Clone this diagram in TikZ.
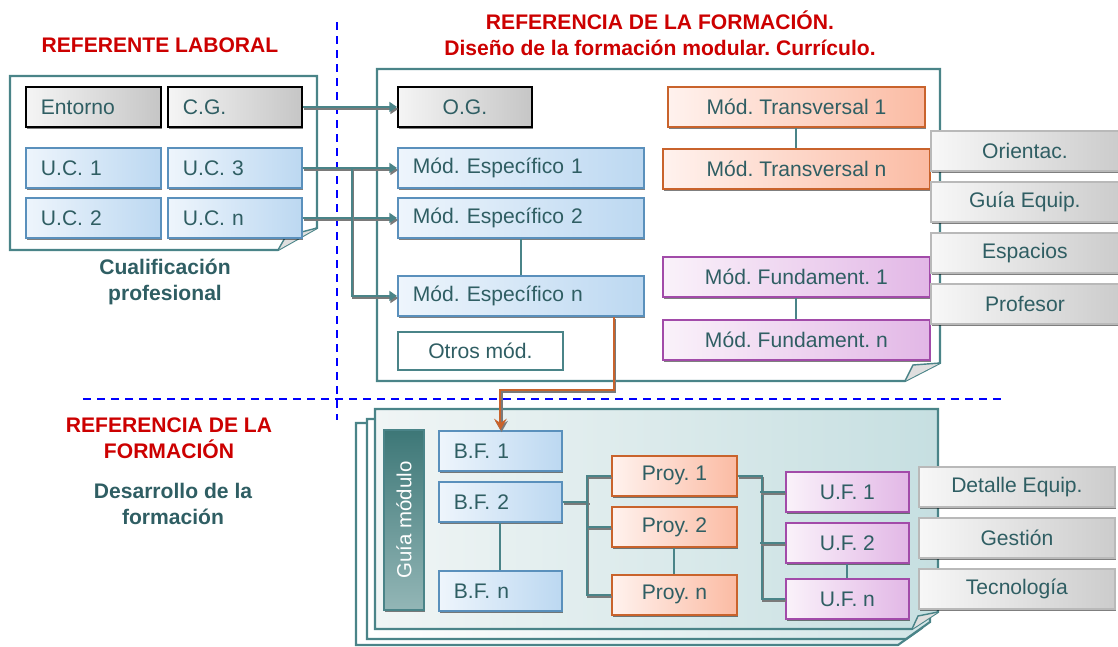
\documentclass[tikz,border=0pt]{standalone}
\usepackage{fontspec}
\setmainfont{Liberation Sans}
\usetikzlibrary{arrows.meta,shadows,calc}
\frenchspacing

\definecolor{tealc}{HTML}{4A8488}
\definecolor{txtc}{HTML}{2F5E63}
\definecolor{redc}{HTML}{CC0000}
\definecolor{bluebd}{HTML}{5A90BC}
\definecolor{bluel}{HTML}{EEF5FC}
\definecolor{bluer}{HTML}{BCD8F1}
\definecolor{orbd}{HTML}{C9632C}
\definecolor{orl}{HTML}{FFF2EE}
\definecolor{orr}{HTML}{FBBBA3}
\definecolor{pubd}{HTML}{A24BA9}
\definecolor{pul}{HTML}{FAF2FA}
\definecolor{pur}{HTML}{E2B7E6}
\definecolor{shd}{HTML}{7A7A7A}
\definecolor{blued}{HTML}{0000FF}
\definecolor{guiat}{HTML}{3D7777}
\definecolor{guiab}{HTML}{93B6B6}
\definecolor{panl}{HTML}{F0F5F5}
\definecolor{panr}{HTML}{C6DFE1}

\newcommand\pxu{0.025cm}

\tikzset{
  sh/.style={drop shadow={shadow xshift=1pt, shadow yshift=-1.6pt, opacity=0.5, fill=black}},
  box/.style={anchor=north west, inner sep=0pt, minimum height=40*\pxu, line width=1.3pt,
    text=txtc, font=\fontsize{15}{18}\selectfont},
  lbox/.style={box, minimum width=#1*\pxu, text width={(#1-30)*\pxu}, inner xsep=15*\pxu, align=left},
  cbox/.style={box, minimum width=#1*\pxu},
  gbox/.style={sh, draw=black, left color=gray!8, right color=gray!45},
  bbox/.style={sh, draw=bluebd, left color=bluel, right color=bluer},
  obox/.style={sh, draw=orbd, left color=orl, right color=orr},
  pbox/.style={sh, draw=pubd, left color=pul, right color=pur},
  rbox/.style={sh, draw=gray!55, left color=gray!6, right color=gray!40},
  panel/.style={draw=tealc, line width=1.5pt},
  flap/.style={draw=tealc, line width=1pt, fill=gray!25},
  conn/.style={draw=tealc, line width=1.5pt,
    preaction={draw=shd, line width=1.5pt, transform canvas={shift={(0.8pt,-1.5pt)}}}},
  oconn/.style={conn, draw=orbd},
  link/.style={draw=tealc, line width=1.5pt},
  dashln/.style={draw=blued, line width=1.4pt, dash pattern=on 0.2cm off 0.15cm},
  title/.style={text=redc, font=\fontsize{15}{18.4}\selectfont\bfseries, align=center},
  sub/.style={text=txtc, font=\fontsize{15}{18.4}\selectfont\bfseries, align=center},
  tip/.style={-{Triangle[length=5.5pt,width=7pt]}}
}

\begin{document}
\begin{tikzpicture}[x=\pxu, y=-\pxu]
\useasboundingbox (0,0) rectangle (1118,646);

% separadores
\draw[dashln] (337,22) -- (337,420);
\draw[dashln] (83,399) -- (1003,399);

% titulos
\node[title] (tlab) at (160,45) {REFERENTE LABORAL};
\node[title] (tform) at (660,33) {REFERENCIA DE LA FORMACIÓN.\\Diseño de la formación modular. Currículo.};
\node[title] (tdes) at (169,438) {REFERENCIA DE LA\\FORMACIÓN};
\node[sub] (cualif) at (165,282) {Cualificación\\profesional};
\node[sub] (desarr) at (173,504) {Desarrollo de la\\formación};

% paneles
\draw[panel, fill=white] (10,76) -- (317,76) -- (317,228) -- (278,250) -- (10,250) -- cycle;
\draw[flap] (278,250) -- (286,236) -- (317,228);
\draw[panel, fill=white] (377,69) -- (940,69) -- (940,363) -- (905,381) -- (377,381) -- cycle;
\draw[flap] (905,381) -- (913,365) -- (940,363);

\shade[left color=white, right color=panr!60] (356,423) -- (922,423) -- (922,628) -- (898,645) -- (356,645) -- cycle;
\draw[panel] (356,423) -- (922,423) -- (922,628) -- (898,645) -- (356,645) -- cycle;
\shade[left color=white, right color=panr!80] (367,419) -- (930,419) -- (930,622) -- (906,639) -- (367,639) -- cycle;
\draw[panel] (367,419) -- (930,419) -- (930,622) -- (906,639) -- (367,639) -- cycle;
\shade[left color=panl, right color=panr] (375,409) -- (938,409) -- (938,612) -- (912,629) -- (375,629) -- cycle;
\draw[panel] (375,409) -- (938,409) -- (938,612) -- (912,629) -- (375,629) -- cycle;
\draw[flap] (912,629) -- (918,616) -- (938,612);

% referente laboral
\node[lbox=135, gbox] (ent) at (25,86) {Entorno};
\node[lbox=134, gbox] (cg) at (167,86) {C.G.};
\node[lbox=135, bbox] (uc1) at (25,147) {U.C. 1};
\node[lbox=134, bbox] (uc3) at (167,147) {U.C. 3};
\node[lbox=135, bbox] (uc2) at (25,197) {U.C. 2};
\node[lbox=134, bbox] (ucn) at (167,197) {U.C. n};

% diseño modular
\node[cbox=134, gbox] (og) at (397,86) {O.G.};
\node[lbox=246, bbox] (esp1) at (397,147) {Mód. Específico 1};
\node[lbox=246, bbox] (esp2) at (397,197) {Mód. Específico 2};
\node[lbox=246, bbox] (espn) at (397,275) {Mód. Específico n};
\node[cbox=165, draw=tealc, fill=white, minimum height=38*\pxu] (otros) at (397,331) {Otros mód.};
\node[cbox=257, obox] (tr1) at (667,86) {Mód. Transversal 1};
\node[cbox=267, obox] (trn) at (662,148) {Mód. Transversal n};
\node[cbox=267, pbox] (fu1) at (662,256) {Mód. Fundament. 1};
\node[cbox=267, pbox] (fun) at (662,319) {Mód. Fundament. n};

\node[cbox=188, rbox] (ori) at (930,130) {Orientac.};
\node[cbox=188, rbox] (gequ) at (930,181) {Guía Equip.};
\node[cbox=188, rbox] (espa) at (930,232) {Espacios};
\node[cbox=188, rbox] (prof) at (930,283) {Profesor};

% desarrollo
\node[box, minimum width=40*\pxu, minimum height=180*\pxu, top color=guiat, bottom color=guiab,
  draw=tealc, text=white, font=\fontsize{14.5}{17}\selectfont, sh] (guia) at (383,429) {\rotatebox{90}{Guía módulo}};
\node[lbox=123, bbox] (bf1) at (438,430) {B.F. 1};
\node[lbox=123, bbox] (bf2) at (438,481) {B.F. 2};
\node[lbox=123, bbox] (bfn) at (438,570) {B.F. n};
\node[cbox=125, obox] (proy1) at (611,455) {Proy. 1};
\node[cbox=125, obox] (proy2) at (611,506) {Proy. 2};
\node[cbox=125, obox] (proyn) at (611,574) {Proy. n};
\node[cbox=123, pbox] (uf1) at (785,471) {U.F. 1};
\node[cbox=123, pbox] (uf2) at (785,522) {U.F. 2};
\node[cbox=123, pbox] (ufn) at (785,578) {U.F. n};

\node[cbox=196, rbox] (deq) at (918,466) {Detalle Equip.};
\node[cbox=196, rbox] (gest) at (918,517) {Gestión};
\node[cbox=196, rbox] (tecn) at (918,568) {Tecnología};

% enlaces
\draw[link] (tr1.south) -- (trn.north);
\draw[link] (fu1.south) -- (fun.north);
\draw[link] (esp2.south) -- (espn.north);
\draw[link] (bf2.south) -- (bfn.north);
\draw[link] (proy2.south) -- (proyn.north);
\draw[link] (uf2.south) -- (ufn.north);

\draw[conn, tip] (cg.east) -- (og.west);
\draw[conn, tip] (uc3.east) -- (esp1.west);
\draw[conn, tip] (ucn.east) -- (esp2.west);
\draw[conn, tip] (uc3.east) -- ++(49,0) |- (espn.west);

\draw[oconn, -{Stealth[length=8pt,width=9pt,inset=3pt]}] ($(espn.south east)+(-31,0)$) -- ++(0,73) -| (bf1.north);

\draw[conn] (bf2.east) -- ++(26,0);
\draw[conn] (proy1.west) -- ++(-24,0) |- (proyn.west);
\draw[conn] (proy2.west) -- ++(-24,0);
\draw[conn] (proy1.east) -- ++(24,0) |- (ufn.west);
\draw[conn] (uf1.west) -- ++(-25,0);
\draw[conn] (uf2.west) -- ++(-25,0);
\end{tikzpicture}
\end{document}
